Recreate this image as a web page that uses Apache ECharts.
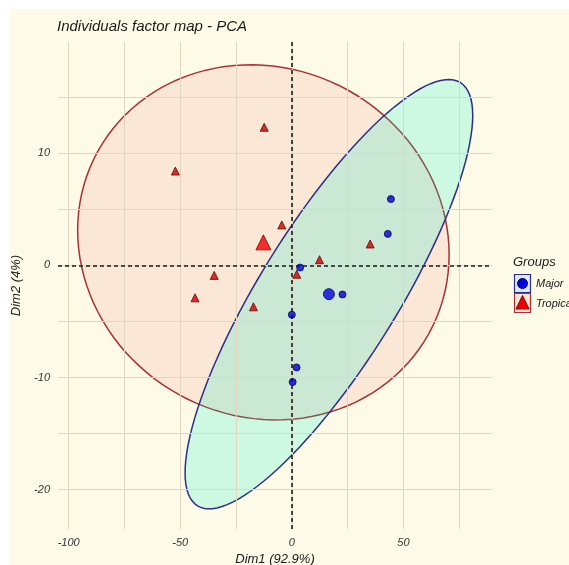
<!DOCTYPE html>
<html>
<head>
<meta charset="utf-8">
<script src="https://cdn.jsdelivr.net/npm/echarts@6/dist/echarts.min.js"></script>
<style>
  html, body { margin: 0; padding: 0; background: #fff; }
  #chart { width: 569px; height: 565px; }
</style>
</head>
<body>
<div id="chart"></div>
<script>
// PCA individuals
var groups = ['Major', 'Tropical'];
var majorDim1 = [44.4, 43.0, 3.7, 22.7, 0.0, 2.1, 0.35];
var majorDim2 = [5.9, 2.8, -0.2, -2.6, -4.4, -9.1, -10.4];
var tropicalDim1 = [35.1, 12.4, 2.2, -4.5, -12.4, -52.2, -17.2, -34.8, -43.4];
var tropicalDim2 = [1.9, 0.5, -0.8, 3.6, 12.3, 8.4, -3.7, -0.9, -2.9];

var xLabels = [-100, -50, 0, 50];
var xMinor = [-75, -25, 25, 75];
var yLabels = [-20, -10, 0, 10];
var yMinor = [-15, -5, 5, 15];

var level = 0.95;
var font = 'Liberation Sans';
var cream = '#fdfbe7';

function mean(a) {
  var s = 0;
  for (var i = 0; i < a.length; i++) s += a[i];
  return s / a.length;
}

// confidence ellipse (multivariate t style, like stat_ellipse)
function ellipse(xs, ys) {
  var n = xs.length, mx = mean(xs), my = mean(ys);
  var sxx = 0, syy = 0, sxy = 0;
  for (var i = 0; i < n; i++) {
    sxx += (xs[i] - mx) * (xs[i] - mx);
    syy += (ys[i] - my) * (ys[i] - my);
    sxy += (xs[i] - mx) * (ys[i] - my);
  }
  sxx /= n - 1; syy /= n - 1; sxy /= n - 1;
  var nu = n - 1;
  var f = nu / 2 * (Math.pow(1 - level, -2 / nu) - 1);
  var r = Math.sqrt(2 * f);
  var a = Math.sqrt(sxx), b = sxy / a, c = Math.sqrt(syy - b * b);
  var pts = [];
  for (var k = 0; k <= 120; k++) {
    var t = k / 120 * Math.PI * 2;
    pts.push([mx + r * a * Math.cos(t), my + r * (b * Math.cos(t) + c * Math.sin(t))]);
  }
  return pts;
}

function zip(xs, ys) {
  return xs.map(function (x, i) { return [x, ys[i]]; });
}

function ellipseSeries(pts, fill, stroke, z) {
  return {
    type: 'custom',
    z: z,
    silent: true,
    data: [[0, 0]],
    renderItem: function (params, api) {
      return {
        type: 'polygon',
        shape: { points: pts.map(function (p) { return api.coord(p); }) },
        style: { fill: fill, stroke: stroke, lineWidth: 1.5 }
      };
    }
  };
}

var gridLine = { color: '#e3d6c0', width: 1, type: 'solid' };
var gridLines = [];
xLabels.concat(xMinor).forEach(function (v) { gridLines.push({ xAxis: v }); });
yLabels.concat(yMinor).forEach(function (v) { gridLines.push({ yAxis: v }); });

var tickText = { fontFamily: font, fontStyle: 'italic', fontSize: 11, color: '#333333' };

var chart = echarts.init(document.getElementById('chart'));
chart.setOption({
  animation: false,
  backgroundColor: cream,
  title: {
    text: 'Individuals factor map - PCA',
    left: 57, top: 19, padding: 0,
    textStyle: { fontFamily: font, fontStyle: 'italic', fontWeight: 'normal', fontSize: 15, color: '#1a1a1a' }
  },
  grid: { left: 58, right: 77, top: 42, bottom: 36, outerBoundsMode: 'none' },
  xAxis: {
    type: 'value', min: -104.8, max: 89.7,
    name: 'Dim1 (92.9%)', nameLocation: 'middle', nameGap: 22,
    nameTextStyle: { fontFamily: font, fontStyle: 'italic', fontSize: 13, color: '#1a1a1a' },
    axisLine: { show: false }, axisTick: { show: false }, splitLine: { show: false },
    axisLabel: Object.assign({ customValues: xLabels, margin: 8 }, tickText)
  },
  yAxis: {
    type: 'value', min: -23.5, max: 19.9,
    name: 'Dim2 (4%)', nameLocation: 'middle', nameGap: 27, nameRotate: 90,
    nameTextStyle: { fontFamily: font, fontStyle: 'italic', fontSize: 13, color: '#1a1a1a' },
    axisLine: { show: false }, axisTick: { show: false }, splitLine: { show: false },
    axisLabel: Object.assign({ customValues: yLabels, margin: 8 }, tickText)
  },
  series: [
    {
      type: 'scatter', z: 1, data: [], silent: true,
      markLine: { silent: true, symbol: ['none', 'none'], label: { show: false }, lineStyle: gridLine, data: gridLines }
    },
    ellipseSeries(ellipse(tropicalDim1, tropicalDim2), 'rgba(243,136,130,0.17)', '#a83232', 2),
    ellipseSeries(ellipse(majorDim1, majorDim2), 'rgba(0,240,205,0.19)', '#2e2e86', 3),
    {
      type: 'scatter', z: 4, data: [], silent: true,
      markLine: {
        silent: true, symbol: ['none', 'none'], label: { show: false },
        lineStyle: { color: '#1a1a1a', width: 1.6, type: [4, 3] },
        data: [{ xAxis: 0 }, { yAxis: 0 }]
      }
    },
    {
      name: groups[1], type: 'scatter', z: 5, symbol: 'triangle', symbolSize: 8,
      itemStyle: { color: '#cc0000', borderColor: '#700000', borderWidth: 1 },
      data: zip(tropicalDim1, tropicalDim2)
    },
    {
      name: groups[0], type: 'scatter', z: 5, symbol: 'circle', symbolSize: 7,
      itemStyle: { color: '#0000cc', borderColor: '#00006e', borderWidth: 1 },
      data: zip(majorDim1, majorDim2)
    },
    {
      type: 'scatter', z: 6, symbol: 'triangle', symbolSize: 15,
      itemStyle: { color: '#f00000', borderColor: '#8a0000', borderWidth: 1 },
      data: [[mean(tropicalDim1), mean(tropicalDim2)]]
    },
    {
      type: 'scatter', z: 6, symbol: 'circle', symbolSize: 11,
      itemStyle: { color: '#0000e0', borderColor: '#00006e', borderWidth: 1 },
      data: [[mean(majorDim1), mean(majorDim2)]]
    }
  ],
  graphic: [
    { type: 'rect', shape: { x: 0, y: 0, width: 569, height: 9 }, style: { fill: '#fff' }, silent: true },
    { type: 'rect', shape: { x: 0, y: 0, width: 10, height: 565 }, style: { fill: '#fff' }, silent: true },
    {
      type: 'text', left: 513, top: 256,
      style: { text: 'Groups', fontFamily: font, fontStyle: 'italic', fontSize: 13, fill: '#1a1a1a' }
    },
    { type: 'rect', shape: { x: 514.5, y: 274.5, width: 16, height: 18 }, style: { fill: '#dce9f0', stroke: '#2e2e86', lineWidth: 1.2 } },
    { type: 'circle', shape: { cx: 522.5, cy: 283.5, r: 5 }, style: { fill: '#0000e0', stroke: '#00006e', lineWidth: 1 } },
    { type: 'rect', shape: { x: 514.5, y: 293.5, width: 16, height: 19 }, style: { fill: '#fae3d4', stroke: '#a83232', lineWidth: 1.2 } },
    { type: 'polygon', shape: { points: [[522.5, 295.5], [529, 309], [516, 309]] }, style: { fill: '#f00000', stroke: '#8a0000', lineWidth: 1 } },
    {
      type: 'text', left: 536, top: 278,
      style: { text: groups[0], fontFamily: font, fontStyle: 'italic', fontSize: 11, fill: '#1a1a1a' }
    },
    {
      type: 'text', left: 536, top: 298,
      style: { text: groups[1], fontFamily: font, fontStyle: 'italic', fontSize: 11, fill: '#1a1a1a' }
    }
  ]
});
</script>
</body>
</html>
